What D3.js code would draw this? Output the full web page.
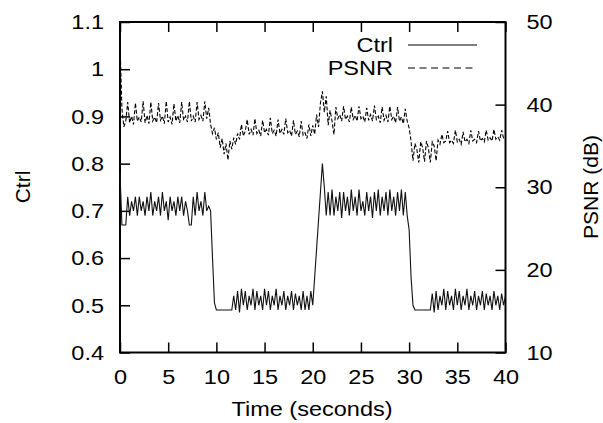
<!DOCTYPE html>
<html>
<head>
<meta charset="utf-8">
<script src="https://cdn.jsdelivr.net/npm/d3@7"></script>
<style>
  body { margin: 0; background: #fff; }
  text { font-family: "Liberation Sans", Arial, sans-serif; font-size: 21px; fill: #000; }
</style>
</head>
<body>
<div id="chart"></div>
<script>
// one sample every 0.2 s, t = 0 .. 40
const timeStep = 0.2;

const ctrl = [
  0.78, 0.67, 0.67, 0.67, 0.73, 0.69, 0.72, 0.70, 0.73, 0.69,   // 0
  0.73, 0.70, 0.72, 0.69, 0.73, 0.70, 0.74, 0.69, 0.72, 0.70,   // 2
  0.73, 0.69, 0.74, 0.70, 0.72, 0.68, 0.73, 0.70, 0.72, 0.69,   // 4
  0.73, 0.70, 0.73, 0.69, 0.72, 0.70, 0.67, 0.67, 0.73, 0.69,   // 6
  0.74, 0.70, 0.72, 0.69, 0.74, 0.70, 0.71, 0.70, 0.60, 0.505,  // 8
  0.49, 0.49, 0.49, 0.49, 0.49, 0.49, 0.49, 0.49, 0.49, 0.52,   // 10
  0.49, 0.53, 0.485, 0.535, 0.50, 0.53, 0.49, 0.52, 0.50, 0.535, // 12
  0.49, 0.53, 0.50, 0.52, 0.49, 0.535, 0.50, 0.53, 0.49, 0.52,  // 14
  0.50, 0.535, 0.49, 0.52, 0.50, 0.53, 0.49, 0.52, 0.50, 0.53,  // 16
  0.49, 0.525, 0.50, 0.52, 0.49, 0.53, 0.49, 0.52, 0.49, 0.53,  // 18
  0.50, 0.56, 0.62, 0.68, 0.74, 0.80, 0.75, 0.69, 0.74, 0.69,   // 20
  0.745, 0.69, 0.73, 0.70, 0.74, 0.685, 0.74, 0.70, 0.73, 0.69, // 22
  0.745, 0.70, 0.73, 0.69, 0.745, 0.70, 0.72, 0.69, 0.74, 0.70, // 24
  0.73, 0.685, 0.74, 0.70, 0.745, 0.69, 0.73, 0.70, 0.74, 0.69, // 26
  0.745, 0.70, 0.73, 0.69, 0.74, 0.70, 0.745, 0.69, 0.74, 0.69, // 28
  0.66, 0.56, 0.50, 0.49, 0.49, 0.49, 0.49, 0.49, 0.49, 0.49,   // 30
  0.49, 0.49, 0.525, 0.485, 0.53, 0.49, 0.52, 0.50, 0.535, 0.49, // 32
  0.53, 0.50, 0.52, 0.49, 0.535, 0.50, 0.53, 0.49, 0.52, 0.50,  // 34
  0.535, 0.49, 0.52, 0.50, 0.53, 0.49, 0.52, 0.50, 0.53, 0.49,  // 36
  0.525, 0.50, 0.52, 0.49, 0.53, 0.50, 0.52, 0.49, 0.525, 0.50, // 38
  0.52
];

const psnr = [
  47.5, 39.5, 37.3, 38.0, 40.3, 37.8, 38.6, 37.6, 40.2, 38.0,   // 0
  38.5, 37.9, 40.4, 37.8, 38.7, 37.7, 40.3, 38.0, 38.5, 37.8,   // 2
  40.2, 38.1, 38.6, 37.7, 40.4, 37.9, 38.5, 37.6, 40.1, 38.0,   // 4
  38.7, 37.8, 40.3, 38.1, 38.6, 37.9, 40.4, 38.0, 38.6, 37.9,   // 6
  40.3, 38.2, 38.7, 38.0, 40.4, 38.3, 39.6, 37.6, 36.5, 37.2,   // 8
  35.8, 36.6, 34.8, 35.9, 34.0, 35.3, 33.3, 35.6, 34.6, 36.0,   // 10
  35.2, 36.5, 35.8, 37.6, 36.2, 36.8, 38.2, 36.4, 37.0, 36.3,   // 12
  38.3, 36.5, 36.9, 36.2, 38.1, 36.6, 37.0, 36.3, 38.4, 36.5,   // 14
  36.9, 36.2, 38.2, 36.5, 37.0, 36.4, 38.3, 36.6, 36.9, 36.2,   // 16
  38.1, 36.4, 36.8, 36.1, 38.0, 36.3, 36.6, 35.9, 37.6, 36.2,   // 18
  37.5, 36.4, 38.8, 37.3, 40.2, 41.6, 39.1, 41.0, 37.5, 39.3,   // 20
  38.0, 36.4, 39.7, 38.3, 38.8, 38.0, 39.8, 38.2, 38.6, 37.9,   // 22
  39.7, 38.2, 38.7, 38.0, 39.8, 38.3, 38.6, 37.9, 39.6, 38.1,   // 24
  38.8, 38.0, 39.9, 38.2, 38.6, 37.8, 39.7, 38.1, 38.7, 37.9,   // 26
  39.8, 38.2, 38.6, 37.8, 39.7, 38.0, 38.5, 37.7, 39.5, 38.0,   // 28
  37.2, 35.6, 33.2, 35.3, 34.6, 33.0, 35.5, 34.8, 33.1, 35.6,   // 30
  34.7, 33.0, 35.5, 35.0, 33.2, 35.7, 35.2, 36.4, 35.4, 35.6,   // 32
  36.8, 35.4, 35.7, 35.3, 36.9, 35.5, 35.8, 35.2, 36.7, 35.5,   // 34
  35.8, 35.3, 36.9, 35.6, 35.8, 35.4, 36.8, 35.6, 35.9, 35.5,   // 36
  36.9, 35.7, 36.0, 35.6, 37.0, 35.8, 36.1, 35.7, 36.9, 35.9,   // 38
  36.0
];

const xTicks = [0, 5, 10, 15, 20, 25, 30, 35, 40];
const ctrlTicks = [0.4, 0.5, 0.6, 0.7, 0.8, 0.9, 1.0, 1.1];
const psnrTicks = [10, 20, 30, 40, 50];
const seriesNames = ["Ctrl", "PSNR"];

const W = 603, H = 423;
const margin = { top: 22, right: 97.5, bottom: 70.5, left: 120 };
const width = W - margin.left - margin.right;
const height = H - margin.top - margin.bottom;
const stretch = 1.12; // the original's text is a bit wider than Arial

// widen horizontal text around its own anchor
function widen(sel) {
  sel.each(function () {
    const t = d3.select(this);
    const tx = +t.attr("x") || 0;
    t.attr("x", 0).attr("transform", `translate(${tx}, 0) scale(${stretch}, 1)`);
  });
}

const svg = d3.select("#chart")
  .append("svg")
  .attr("width", W)
  .attr("height", H);

const g = svg.append("g")
  .attr("transform", `translate(${margin.left}, ${margin.top})`);

const x = d3.scaleLinear().domain([0, 40]).range([0, width]);
const y = d3.scaleLinear().domain([0.4, 1.1]).range([height, 0]);
const y2 = d3.scaleLinear().domain([10, 50]).range([height, 0]);

const tickLen = 10;

// bottom axis + mirrored ticks on top
g.append("g")
  .attr("transform", `translate(0, ${height})`)
  .call(d3.axisBottom(x).tickValues(xTicks).tickSizeInner(-tickLen).tickSizeOuter(0).tickPadding(17).tickFormat(d3.format("d")));
g.append("g")
  .call(d3.axisTop(x).tickValues(xTicks).tickSizeInner(-tickLen).tickSizeOuter(0).tickFormat(""));

// left axis
g.append("g")
  .call(d3.axisLeft(y).tickValues(ctrlTicks).tickSizeInner(-tickLen).tickSizeOuter(0).tickPadding(16)
    .tickFormat(d => d === 1 ? "1" : d3.format(".1f")(d)));

// right axis
g.append("g")
  .attr("transform", `translate(${width}, 0)`)
  .call(d3.axisRight(y2).tickValues(psnrTicks).tickSizeInner(-tickLen).tickSizeOuter(0).tickPadding(21).tickFormat(d3.format("d")));

g.selectAll(".domain").remove();
g.selectAll(".tick line").attr("stroke", "#000").attr("stroke-width", 1.5);
g.selectAll(".tick text").style("font-size", "21px").attr("fill", "#000").call(widen);

// frame
g.append("rect")
  .attr("x", 0).attr("y", 0)
  .attr("width", width).attr("height", height)
  .attr("fill", "none")
  .attr("stroke", "#000")
  .attr("stroke-width", 2);

const ctrlLine = d3.line()
  .x((d, i) => x(i * timeStep))
  .y(d => y(d));

const psnrLine = d3.line()
  .x((d, i) => x(i * timeStep))
  .y(d => y2(d));

g.append("path")
  .datum(ctrl)
  .attr("fill", "none")
  .attr("stroke", "#111")
  .attr("stroke-width", 1.1)
  .attr("d", ctrlLine);

g.append("path")
  .datum(psnr)
  .attr("fill", "none")
  .attr("stroke", "#000")
  .attr("stroke-width", 1.1)
  .attr("stroke-dasharray", "4,2")
  .attr("d", psnrLine);

// legend
const legend = svg.append("g");
seriesNames.forEach((name, i) => {
  const ly = 45 + i * 23;
  legend.append("text")
    .attr("x", 393)
    .attr("y", ly)
    .attr("dy", "0.35em")
    .attr("text-anchor", "end")
    .text(name)
    .call(widen);
  legend.append("line")
    .attr("x1", 408).attr("x2", 477)
    .attr("y1", ly).attr("y2", ly)
    .attr("stroke", "#000")
    .attr("stroke-width", 1.1)
    .attr("stroke-dasharray", i === 0 ? null : "7,4.5");
});

// axis titles
svg.append("text")
  .attr("x", 312)
  .attr("y", 416)
  .attr("text-anchor", "middle")
  .text("Time (seconds)")
  .call(widen);

svg.append("text")
  .attr("transform", `translate(30, 187) rotate(-90)`)
  .attr("text-anchor", "middle")
  .text("Ctrl");

svg.append("text")
  .attr("transform", `translate(598, 187) rotate(-90)`)
  .attr("text-anchor", "middle")
  .text("PSNR (dB)");
</script>
</body>
</html>
